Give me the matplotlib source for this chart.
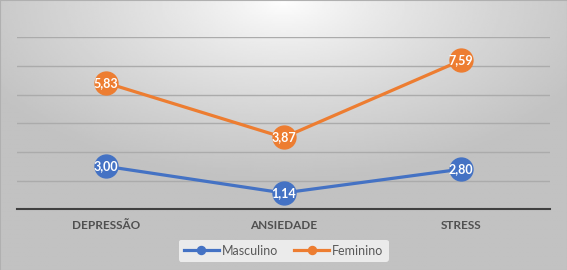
import numpy as np
from matplotlib import pyplot as plt

categorias = ["DEPRESSÃO", "ANSIEDADE", "STRESS"]
masculino = [3.00, 1.14, 2.80]
feminino = [5.83, 3.87, 7.59]

plt.rcParams["font.family"] = ["Lato", "DejaVu Sans"]

fig = plt.figure(figsize=(5.67, 2.7), dpi=100)

# Fundo com gradiente radial (claro no topo ao centro)
bg = fig.add_axes([0, 0, 1, 1], zorder=0)
gx, gy = np.meshgrid(np.linspace(0, 1, 300), np.linspace(0, 1, 150))
dist = np.sqrt(((gx - 0.5) * 1.0) ** 2 + ((gy - 1.0) * 0.9) ** 2)
shade = 1.0 - 0.24 * np.clip(dist / 0.6, 0, 1) ** 0.8
bg.imshow(shade, cmap="gray", vmin=0, vmax=1, origin="lower", aspect="auto",
          extent=[0, 1, 0, 1])
bg.set_xlim(0, 1)
bg.set_ylim(0, 1)
bg.set_xticks([])
bg.set_yticks([])
for s in ["left", "right", "top", "bottom"]:
    bg.spines[s].set_color("#B0B0B0")

ax = fig.add_axes([0.030, 0.2248, 0.940, 0.637], zorder=1)
ax.patch.set_alpha(0)

x = np.arange(len(categorias))
# Gráfico de linhas empilhadas
topo = np.array(masculino) + np.array(feminino)

ax.plot(x, masculino, color="#4472C4", lw=2.3, marker="o", ms=16.5,
        label="Masculino", zorder=3)
ax.plot(x, topo, color="#ED7D31", lw=2.3, marker="o", ms=16.5,
        label="Feminino", zorder=3)

for xi, v in zip(x, masculino):
    ax.text(xi, v, f"{v:.2f}".replace(".", ","), color="white",
            fontsize=9, fontweight="bold", ha="center", va="center", zorder=4)
for xi, t, v in zip(x, topo, feminino):
    ax.text(xi, t, f"{v:.2f}".replace(".", ","), color="white",
            fontsize=9, fontweight="bold", ha="center", va="center", zorder=4)

ax.set_xlim(-0.5, len(categorias) - 0.5)
ax.set_ylim(0, 12)
ax.set_yticks(np.arange(0, 13, 2))
ax.yaxis.grid(True, color="#ABABAB", lw=1)
ax.set_axisbelow(True)
ax.tick_params(axis="y", left=False, labelleft=False)
ax.set_xticks(x)
ax.set_xticklabels(categorias, fontsize=8.5, fontweight="bold", color="#505050")
ax.tick_params(axis="x", length=0, pad=8)
for s in ["left", "right", "top"]:
    ax.spines[s].set_visible(False)
ax.spines["bottom"].set_color("#404040")
ax.spines["bottom"].set_linewidth(1.5)

leg = ax.legend(loc="center", bbox_to_anchor=(0.5, -0.24), ncol=2, frameon=True,
                fontsize=9, markerscale=0.35, handlelength=2.8,
                columnspacing=1.3, handletextpad=0.25, borderpad=0.4)
leg.get_frame().set_facecolor("#EBEBEB")
leg.get_frame().set_edgecolor("none")
leg.get_frame().set_alpha(1)
for t in leg.get_texts():
    t.set_color("#595959")

fig.savefig("out.png", dpi=100)
